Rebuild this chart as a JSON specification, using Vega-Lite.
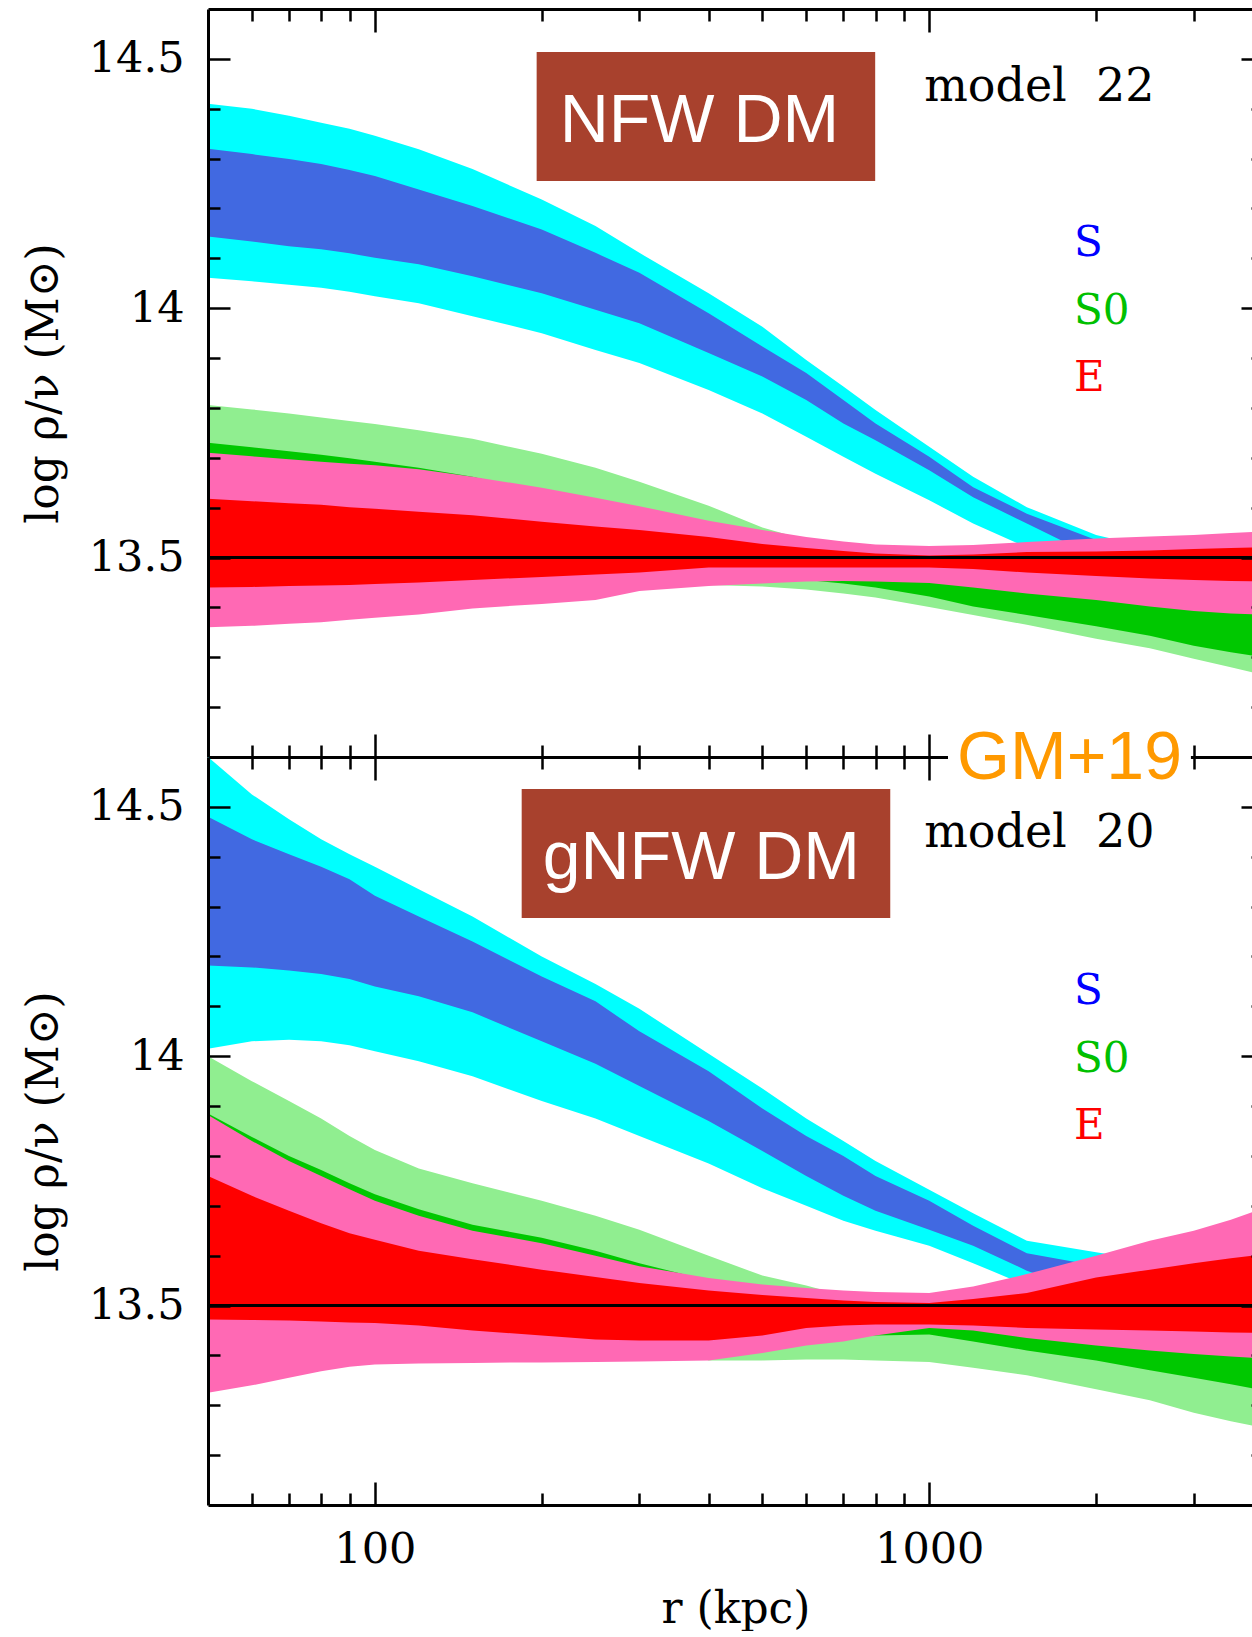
{
  "$schema": "https://vega.github.io/schema/vega-lite/v6.json",
  "background": "white",
  "padding": {"left": 22, "top": 7, "right": 0, "bottom": 0},
  "spacing": 0,
  "bounds": "flush",
  "config": {
    "view": {"stroke": null},
    "axis": {
      "grid": false, "domainColor": "black", "domainWidth": 3, "tickColor": "black", "tickWidth": 2.5,
      "labelFont": "DejaVu Serif", "labelFontSize": 43, "labelColor": "black",
      "titleFont": "DejaVu Serif", "titleFontSize": 44, "titleColor": "black", "titleFontWeight": "normal",
      "labelOverlap": false, "labelFlush": false, "minExtent": 0
    }
  },
  "datasets": {
    "upper": [
      {"r": 50, "s2h": 14.41, "s2l": 14.061, "s1h": 14.32, "s1l": 14.144, "g2h": 13.806, "g2l": 13.5, "g1h": 13.73, "g1l": 13.52, "e2h": 13.71, "e2l": 13.36, "e1h": 13.618, "e1l": 13.44},
      {"r": 60, "s2h": 14.4, "s2l": 14.054, "s1h": 14.309, "s1l": 14.134, "g2h": 13.797, "g2l": 13.5, "g1h": 13.721, "g1l": 13.52, "e2h": 13.703, "e2l": 13.363, "e1h": 13.613, "e1l": 13.441},
      {"r": 70, "s2h": 14.386, "s2l": 14.047, "s1h": 14.299, "s1l": 14.124, "g2h": 13.789, "g2l": 13.5, "g1h": 13.713, "g1l": 13.52, "e2h": 13.697, "e2l": 13.367, "e1h": 13.609, "e1l": 13.443},
      {"r": 80, "s2h": 14.372, "s2l": 14.041, "s1h": 14.289, "s1l": 14.118, "g2h": 13.781, "g2l": 13.5, "g1h": 13.706, "g1l": 13.52, "e2h": 13.692, "e2l": 13.37, "e1h": 13.606, "e1l": 13.444},
      {"r": 90, "s2h": 14.36, "s2l": 14.033, "s1h": 14.277, "s1l": 14.11, "g2h": 13.774, "g2l": 13.5, "g1h": 13.699, "g1l": 13.52, "e2h": 13.688, "e2l": 13.375, "e1h": 13.601, "e1l": 13.445},
      {"r": 100, "s2h": 14.346, "s2l": 14.024, "s1h": 14.265, "s1l": 14.101, "g2h": 13.768, "g2l": 13.5, "g1h": 13.692, "g1l": 13.52, "e2h": 13.685, "e2l": 13.379, "e1h": 13.598, "e1l": 13.447},
      {"r": 120, "s2h": 14.319, "s2l": 14.01, "s1h": 14.238, "s1l": 14.088, "g2h": 13.755, "g2l": 13.5, "g1h": 13.68, "g1l": 13.52, "e2h": 13.677, "e2l": 13.386, "e1h": 13.592, "e1l": 13.45},
      {"r": 150, "s2h": 14.279, "s2l": 13.984, "s1h": 14.205, "s1l": 14.064, "g2h": 13.738, "g2l": 13.5, "g1h": 13.662, "g1l": 13.52, "e2h": 13.662, "e2l": 13.398, "e1h": 13.585, "e1l": 13.455},
      {"r": 200, "s2h": 14.218, "s2l": 13.95, "s1h": 14.158, "s1l": 14.03, "g2h": 13.708, "g2l": 13.5, "g1h": 13.63, "g1l": 13.52, "e2h": 13.64, "e2l": 13.407, "e1h": 13.572, "e1l": 13.461},
      {"r": 250, "s2h": 14.165, "s2l": 13.916, "s1h": 14.111, "s1l": 13.997, "g2h": 13.68, "g2l": 13.5, "g1h": 13.6, "g1l": 13.52, "e2h": 13.62, "e2l": 13.415, "e1h": 13.562, "e1l": 13.466},
      {"r": 300, "s2h": 14.111, "s2l": 13.89, "s1h": 14.071, "s1l": 13.97, "g2h": 13.652, "g2l": 13.5, "g1h": 13.58, "g1l": 13.5, "e2h": 13.603, "e2l": 13.433, "e1h": 13.555, "e1l": 13.47},
      {"r": 400, "s2h": 14.03, "s2l": 13.836, "s1h": 13.99, "s1l": 13.91, "g2h": 13.604, "g2l": 13.445, "g1h": 13.55, "g1l": 13.49, "e2h": 13.574, "e2l": 13.443, "e1h": 13.541, "e1l": 13.48},
      {"r": 500, "s2h": 13.963, "s2l": 13.789, "s1h": 13.923, "s1l": 13.863, "g2h": 13.56, "g2l": 13.442, "g1h": 13.53, "g1l": 13.47, "e2h": 13.555, "e2l": 13.448, "e1h": 13.527, "e1l": 13.48},
      {"r": 600, "s2h": 13.896, "s2l": 13.742, "s1h": 13.87, "s1l": 13.816, "g2h": 13.535, "g2l": 13.436, "g1h": 13.52, "g1l": 13.455, "e2h": 13.541, "e2l": 13.452, "e1h": 13.519, "e1l": 13.48},
      {"r": 700, "s2h": 13.843, "s2l": 13.702, "s1h": 13.816, "s1l": 13.769, "g2h": 13.52, "g2l": 13.428, "g1h": 13.51, "g1l": 13.448, "e2h": 13.532, "e2l": 13.453, "e1h": 13.513, "e1l": 13.48},
      {"r": 800, "s2h": 13.796, "s2l": 13.668, "s1h": 13.769, "s1l": 13.735, "g2h": 13.51, "g2l": 13.42, "g1h": 13.5, "g1l": 13.44, "e2h": 13.526, "e2l": 13.452, "e1h": 13.508, "e1l": 13.48},
      {"r": 1000, "s2h": 13.722, "s2l": 13.615, "s1h": 13.702, "s1l": 13.675, "g2h": 13.5, "g2l": 13.401, "g1h": 13.49, "g1l": 13.422, "e2h": 13.523, "e2l": 13.449, "e1h": 13.504, "e1l": 13.48},
      {"r": 1200, "s2h": 13.662, "s2l": 13.568, "s1h": 13.641, "s1l": 13.621, "g2h": 13.49, "g2l": 13.385, "g1h": 13.48, "g1l": 13.402, "e2h": 13.525, "e2l": 13.44, "e1h": 13.506, "e1l": 13.477},
      {"r": 1500, "s2h": 13.601, "s2l": 13.52, "s1h": 13.588, "s1l": 13.568, "g2h": 13.48, "g2l": 13.365, "g1h": 13.47, "g1l": 13.385, "e2h": 13.531, "e2l": 13.428, "e1h": 13.511, "e1l": 13.47},
      {"r": 2000, "s2h": 13.545, "s2l": 13.48, "s1h": 13.535, "s1l": 13.5, "g2h": 13.47, "g2l": 13.337, "g1h": 13.46, "g1l": 13.362, "e2h": 13.538, "e2l": 13.415, "e1h": 13.512, "e1l": 13.463},
      {"r": 2500, "s2h": 13.52, "s2l": 13.46, "s1h": 13.5, "s1l": 13.48, "g2h": 13.46, "g2l": 13.318, "g1h": 13.45, "g1l": 13.343, "e2h": 13.542, "e2l": 13.402, "e1h": 13.514, "e1l": 13.458},
      {"r": 3000, "s2h": 13.5, "s2l": 13.45, "s1h": 13.49, "s1l": 13.47, "g2h": 13.45, "g2l": 13.297, "g1h": 13.44, "g1l": 13.323, "e2h": 13.545, "e2l": 13.393, "e1h": 13.517, "e1l": 13.455},
      {"r": 3500, "s2h": 13.49, "s2l": 13.44, "s1h": 13.48, "s1l": 13.46, "g2h": 13.445, "g2l": 13.28, "g1h": 13.435, "g1l": 13.31, "e2h": 13.549, "e2l": 13.388, "e1h": 13.519, "e1l": 13.453},
      {"r": 4000, "s2h": 13.48, "s2l": 13.43, "s1h": 13.47, "s1l": 13.455, "g2h": 13.44, "g2l": 13.265, "g1h": 13.43, "g1l": 13.3, "e2h": 13.552, "e2l": 13.385, "e1h": 13.521, "e1l": 13.452}
    ],
    "lower": [
      {"r": 50, "s2h": 14.6, "s2l": 14.015, "s1h": 14.48, "s1l": 14.182, "g2h": 14.0, "g2l": 13.45, "g1h": 13.885, "g1l": 13.5, "e2h": 13.882, "e2l": 13.325, "e1h": 13.76, "e1l": 13.472},
      {"r": 60, "s2h": 14.525, "s2l": 14.03, "s1h": 14.435, "s1l": 14.178, "g2h": 13.95, "g2l": 13.45, "g1h": 13.838, "g1l": 13.5, "e2h": 13.83, "e2l": 13.34, "e1h": 13.72, "e1l": 13.471},
      {"r": 70, "s2h": 14.475, "s2l": 14.033, "s1h": 14.405, "s1l": 14.172, "g2h": 13.91, "g2l": 13.45, "g1h": 13.8, "g1l": 13.5, "e2h": 13.79, "e2l": 13.355, "e1h": 13.69, "e1l": 13.47},
      {"r": 80, "s2h": 14.435, "s2l": 14.03, "s1h": 14.38, "s1l": 14.165, "g2h": 13.875, "g2l": 13.45, "g1h": 13.772, "g1l": 13.5, "e2h": 13.76, "e2l": 13.368, "e1h": 13.665, "e1l": 13.468},
      {"r": 90, "s2h": 14.405, "s2l": 14.022, "s1h": 14.355, "s1l": 14.155, "g2h": 13.84, "g2l": 13.45, "g1h": 13.745, "g1l": 13.5, "e2h": 13.733, "e2l": 13.377, "e1h": 13.645, "e1l": 13.466},
      {"r": 100, "s2h": 14.38, "s2l": 14.01, "s1h": 14.322, "s1l": 14.14, "g2h": 13.812, "g2l": 13.45, "g1h": 13.723, "g1l": 13.5, "e2h": 13.71, "e2l": 13.382, "e1h": 13.632, "e1l": 13.465},
      {"r": 120, "s2h": 14.335, "s2l": 13.99, "s1h": 14.28, "s1l": 14.12, "g2h": 13.775, "g2l": 13.45, "g1h": 13.693, "g1l": 13.5, "e2h": 13.68, "e2l": 13.384, "e1h": 13.61, "e1l": 13.46},
      {"r": 150, "s2h": 14.28, "s2l": 13.96, "s1h": 14.23, "s1l": 14.088, "g2h": 13.745, "g2l": 13.45, "g1h": 13.662, "g1l": 13.5, "e2h": 13.65, "e2l": 13.385, "e1h": 13.593, "e1l": 13.45},
      {"r": 200, "s2h": 14.2, "s2l": 13.91, "s1h": 14.16, "s1l": 14.03, "g2h": 13.71, "g2l": 13.45, "g1h": 13.636, "g1l": 13.5, "e2h": 13.625, "e2l": 13.386, "e1h": 13.572, "e1l": 13.44},
      {"r": 250, "s2h": 14.145, "s2l": 13.875, "s1h": 14.11, "s1l": 13.985, "g2h": 13.68, "g2l": 13.45, "g1h": 13.61, "g1l": 13.5, "e2h": 13.6, "e2l": 13.387, "e1h": 13.557, "e1l": 13.432},
      {"r": 300, "s2h": 14.095, "s2l": 13.84, "s1h": 14.05, "s1l": 13.94, "g2h": 13.652, "g2l": 13.45, "g1h": 13.585, "g1l": 13.5, "e2h": 13.579, "e2l": 13.388, "e1h": 13.545, "e1l": 13.43},
      {"r": 400, "s2h": 14.005, "s2l": 13.785, "s1h": 13.97, "s1l": 13.87, "g2h": 13.6, "g2l": 13.39, "g1h": 13.55, "g1l": 13.5, "e2h": 13.555, "e2l": 13.39, "e1h": 13.53, "e1l": 13.43},
      {"r": 500, "s2h": 13.935, "s2l": 13.735, "s1h": 13.895, "s1l": 13.81, "g2h": 13.56, "g2l": 13.39, "g1h": 13.53, "g1l": 13.5, "e2h": 13.542, "e2l": 13.405, "e1h": 13.521, "e1l": 13.44},
      {"r": 600, "s2h": 13.875, "s2l": 13.7, "s1h": 13.84, "s1l": 13.76, "g2h": 13.54, "g2l": 13.392, "g1h": 13.52, "g1l": 13.45, "e2h": 13.535, "e2l": 13.42, "e1h": 13.515, "e1l": 13.455},
      {"r": 700, "s2h": 13.83, "s2l": 13.67, "s1h": 13.8, "s1l": 13.72, "g2h": 13.52, "g2l": 13.392, "g1h": 13.51, "g1l": 13.44, "e2h": 13.53, "e2l": 13.428, "e1h": 13.51, "e1l": 13.46},
      {"r": 800, "s2h": 13.79, "s2l": 13.65, "s1h": 13.76, "s1l": 13.69, "g2h": 13.51, "g2l": 13.39, "g1h": 13.5, "g1l": 13.44, "e2h": 13.527, "e2l": 13.44, "e1h": 13.507, "e1l": 13.462},
      {"r": 1000, "s2h": 13.732, "s2l": 13.62, "s1h": 13.71, "s1l": 13.652, "g2h": 13.5, "g2l": 13.387, "g1h": 13.49, "g1l": 13.442, "e2h": 13.525, "e2l": 13.455, "e1h": 13.505, "e1l": 13.462},
      {"r": 1200, "s2h": 13.685, "s2l": 13.585, "s1h": 13.66, "s1l": 13.62, "g2h": 13.49, "g2l": 13.375, "g1h": 13.48, "g1l": 13.428, "e2h": 13.538, "e2l": 13.45, "e1h": 13.513, "e1l": 13.46},
      {"r": 1500, "s2h": 13.63, "s2l": 13.54, "s1h": 13.605, "s1l": 13.57, "g2h": 13.48, "g2l": 13.36, "g1h": 13.47, "g1l": 13.41, "e2h": 13.563, "e2l": 13.435, "e1h": 13.525, "e1l": 13.455},
      {"r": 2000, "s2h": 13.607, "s2l": 13.5, "s1h": 13.58, "s1l": 13.52, "g2h": 13.47, "g2l": 13.332, "g1h": 13.46, "g1l": 13.39, "e2h": 13.6, "e2l": 13.42, "e1h": 13.556, "e1l": 13.452},
      {"r": 2500, "s2h": 13.59, "s2l": 13.49, "s1h": 13.56, "s1l": 13.5, "g2h": 13.46, "g2l": 13.31, "g1h": 13.45, "g1l": 13.37, "e2h": 13.63, "e2l": 13.41, "e1h": 13.572, "e1l": 13.45},
      {"r": 3000, "s2h": 13.57, "s2l": 13.48, "s1h": 13.55, "s1l": 13.49, "g2h": 13.45, "g2l": 13.285, "g1h": 13.44, "g1l": 13.355, "e2h": 13.65, "e2l": 13.403, "e1h": 13.585, "e1l": 13.448},
      {"r": 3500, "s2h": 13.56, "s2l": 13.47, "s1h": 13.54, "s1l": 13.48, "g2h": 13.445, "g2l": 13.268, "g1h": 13.435, "g1l": 13.342, "e2h": 13.672, "e2l": 13.398, "e1h": 13.595, "e1l": 13.446},
      {"r": 4000, "s2h": 13.55, "s2l": 13.46, "s1h": 13.53, "s1l": 13.47, "g2h": 13.44, "g2l": 13.255, "g1h": 13.43, "g1l": 13.33, "e2h": 13.695, "e2l": 13.394, "e1h": 13.602, "e1l": 13.445}
    ]
  },
  "vconcat": [
    {
      "width": 1055, "height": 748,
      "data": {"name": "upper"},
      "resolve": {"axis": {"x": "independent", "y": "independent"}},
      "layer": [
        {"mark": {"type": "area", "orient": "vertical", "color": "#00FFFF"},
         "encoding": {
           "x": {"field": "r", "type": "quantitative", "scale": {"type": "log", "domain": [50, 4000], "nice": false},
                 "axis": {"orient": "bottom", "values": [60, 70, 80, 90, 100, 200, 300, 400, 500, 600, 700, 800, 900, 1000, 2000, 3000], "tickSize": {"condition": {"test": "datum.value == 100 || datum.value == 1000", "value": -23}, "value": -12}, "labels": false, "title": null, "zindex": 1}},
           "y": {"field": "s2h", "type": "quantitative", "scale": {"domain": [13.1, 14.6], "nice": false, "zero": false},
                 "axis": {"orient": "left", "values": [13.2, 13.3, 13.4, 13.5, 13.6, 13.7, 13.8, 13.9, 14, 14.1, 14.2, 14.3, 14.4, 14.5], "tickSize": {"condition": {"test": "datum.value == 14.5 || datum.value == 14 || datum.value == 13.5", "value": -22}, "value": -12}, "labelPadding": 46, "labelExpr": "datum.value == 14.5 ? '14.5' : datum.value == 14 ? '14' : datum.value == 13.5 ? '13.5' : ''", "title": "log  ρ/ν (M⊙)", "titlePadding": 22, "zindex": 1}},
           "y2": {"field": "s2l"}
         }},
        {"mark": {"type": "area", "orient": "vertical", "color": "#4169E1"},
         "encoding": {
           "x": {"field": "r", "type": "quantitative", "scale": {"type": "log", "domain": [50, 4000], "nice": false},
                 "axis": {"orient": "top", "values": [60, 70, 80, 90, 100, 200, 300, 400, 500, 600, 700, 800, 900, 1000, 2000, 3000], "tickSize": {"condition": {"test": "datum.value == 100 || datum.value == 1000", "value": -23}, "value": -12}, "labels": false, "title": null, "zindex": 1}},
           "y": {"field": "s1h", "type": "quantitative", "scale": {"domain": [13.1, 14.6], "nice": false, "zero": false},
                 "axis": {"orient": "right", "values": [13.2, 13.3, 13.4, 13.5, 13.6, 13.7, 13.8, 13.9, 14, 14.1, 14.2, 14.3, 14.4, 14.5], "tickSize": {"condition": {"test": "datum.value == 14.5 || datum.value == 14 || datum.value == 13.5", "value": -22}, "value": -12}, "labels": false, "title": null, "zindex": 1}},
           "y2": {"field": "s1l"}
         }},
        {"mark": {"type": "area", "orient": "vertical", "color": "#90EE90"},
         "encoding": {
           "x": {"field": "r", "type": "quantitative", "scale": {"type": "log", "domain": [50, 4000], "nice": false}, "axis": null},
           "y": {"field": "g2h", "type": "quantitative", "scale": {"domain": [13.1, 14.6], "nice": false, "zero": false}, "axis": null},
           "y2": {"field": "g2l"}
         }},
        {"mark": {"type": "area", "orient": "vertical", "color": "#00C800"},
         "encoding": {
           "x": {"field": "r", "type": "quantitative", "scale": {"type": "log", "domain": [50, 4000], "nice": false}, "axis": null},
           "y": {"field": "g1h", "type": "quantitative", "scale": {"domain": [13.1, 14.6], "nice": false, "zero": false}, "axis": null},
           "y2": {"field": "g1l"}
         }},
        {"mark": {"type": "area", "orient": "vertical", "color": "#FF69B4"},
         "encoding": {
           "x": {"field": "r", "type": "quantitative", "scale": {"type": "log", "domain": [50, 4000], "nice": false}, "axis": null},
           "y": {"field": "e2h", "type": "quantitative", "scale": {"domain": [13.1, 14.6], "nice": false, "zero": false}, "axis": null},
           "y2": {"field": "e2l"}
         }},
        {"mark": {"type": "area", "orient": "vertical", "color": "#FF0000"},
         "encoding": {
           "x": {"field": "r", "type": "quantitative", "scale": {"type": "log", "domain": [50, 4000], "nice": false}, "axis": null},
           "y": {"field": "e1h", "type": "quantitative", "scale": {"domain": [13.1, 14.6], "nice": false, "zero": false}, "axis": null},
           "y2": {"field": "e1l"}
         }},
        {"mark": {"type": "rule", "color": "black", "strokeWidth": 3},
         "encoding": {"y": {"datum": 13.5, "type": "quantitative", "scale": {"domain": [13.1, 14.6], "nice": false, "zero": false}, "axis": null}}},
        {"data": {"values": [{"a": 195.8, "b": 798.9, "lo": 14.255, "hi": 14.514}]},
         "mark": {"type": "rect", "color": "#A8412D"},
         "encoding": {
           "x": {"field": "a", "type": "quantitative", "scale": {"type": "log", "domain": [50, 4000], "nice": false}, "axis": null},
           "x2": {"field": "b"},
           "y": {"field": "lo", "type": "quantitative", "scale": {"domain": [13.1, 14.6], "nice": false, "zero": false}, "axis": null},
           "y2": {"field": "hi"}
         }},
        {"data": {"values": [{"r": 385, "v": 14.333, "t": "NFW DM"}]},
         "mark": {"type": "text", "font": "Liberation Sans", "fontSize": 68, "color": "white", "align": "center", "baseline": "alphabetic"},
         "encoding": {
           "x": {"field": "r", "type": "quantitative", "scale": {"type": "log", "domain": [50, 4000], "nice": false}, "axis": null},
           "y": {"field": "v", "type": "quantitative", "scale": {"domain": [13.1, 14.6], "nice": false, "zero": false}, "axis": null},
           "text": {"field": "t"}
         }},
        {"data": {"values": [{"r": 979, "v": 14.4155, "t": "model\u00a0 22"}]},
         "mark": {"type": "text", "font": "DejaVu Serif", "fontSize": 46, "color": "black", "align": "left", "baseline": "alphabetic"},
         "encoding": {
           "x": {"field": "r", "type": "quantitative", "scale": {"type": "log", "domain": [50, 4000], "nice": false}, "axis": null},
           "y": {"field": "v", "type": "quantitative", "scale": {"domain": [13.1, 14.6], "nice": false, "zero": false}, "axis": null},
           "text": {"field": "t"}
         }},
        {"data": {"values": [{"r": 1825, "v": 14.105, "t": "S"}, {"r": 1825, "v": 13.969, "t": "S0"}, {"r": 1825, "v": 13.833, "t": "E"}]},
         "mark": {"type": "text", "font": "DejaVu Serif", "fontSize": 42, "align": "left", "baseline": "alphabetic"},
         "encoding": {
           "x": {"field": "r", "type": "quantitative", "scale": {"type": "log", "domain": [50, 4000], "nice": false}, "axis": null},
           "y": {"field": "v", "type": "quantitative", "scale": {"domain": [13.1, 14.6], "nice": false, "zero": false}, "axis": null},
           "text": {"field": "t"},
           "color": {"field": "t", "type": "nominal", "scale": {"domain": ["S", "S0", "E"], "range": ["#0000FF", "#00C000", "#FF0000"]}, "legend": null}
         }}
      ]
    },
    {
      "width": 1055, "height": 748,
      "data": {"name": "lower"},
      "resolve": {"axis": {"x": "independent", "y": "independent"}},
      "layer": [
        {"mark": {"type": "area", "orient": "vertical", "color": "#00FFFF"},
         "encoding": {
           "x": {"field": "r", "type": "quantitative", "scale": {"type": "log", "domain": [50, 4000], "nice": false},
                 "axis": {"orient": "bottom", "values": [60, 70, 80, 90, 100, 200, 300, 400, 500, 600, 700, 800, 900, 1000, 2000, 3000], "tickSize": {"condition": {"test": "datum.value == 100 || datum.value == 1000", "value": -23}, "value": -12}, "labelPadding": 46, "labelExpr": "datum.value == 100 ? '100' : datum.value == 1000 ? '1000' : ''", "title": "r (kpc)", "titleFontSize": 44, "titlePadding": 5, "zindex": 1}},
           "y": {"field": "s2h", "type": "quantitative", "scale": {"domain": [13.1, 14.6], "nice": false, "zero": false},
                 "axis": {"orient": "left", "values": [13.2, 13.3, 13.4, 13.5, 13.6, 13.7, 13.8, 13.9, 14, 14.1, 14.2, 14.3, 14.4, 14.5], "tickSize": {"condition": {"test": "datum.value == 14.5 || datum.value == 14 || datum.value == 13.5", "value": -22}, "value": -12}, "labelPadding": 46, "labelExpr": "datum.value == 14.5 ? '14.5' : datum.value == 14 ? '14' : datum.value == 13.5 ? '13.5' : ''", "title": "log  ρ/ν (M⊙)", "titlePadding": 22, "zindex": 1}},
           "y2": {"field": "s2l"}
         }},
        {"mark": {"type": "area", "orient": "vertical", "color": "#4169E1"},
         "encoding": {
           "x": {"field": "r", "type": "quantitative", "scale": {"type": "log", "domain": [50, 4000], "nice": false},
                 "axis": {"orient": "top", "values": [60, 70, 80, 90, 100, 200, 300, 400, 500, 600, 700, 800, 900, 1000, 2000, 3000], "tickSize": {"condition": {"test": "datum.value == 100 || datum.value == 1000", "value": -23}, "value": -12}, "labels": false, "title": null, "zindex": 0}},
           "y": {"field": "s1h", "type": "quantitative", "scale": {"domain": [13.1, 14.6], "nice": false, "zero": false},
                 "axis": {"orient": "right", "values": [13.2, 13.3, 13.4, 13.5, 13.6, 13.7, 13.8, 13.9, 14, 14.1, 14.2, 14.3, 14.4, 14.5], "tickSize": {"condition": {"test": "datum.value == 14.5 || datum.value == 14 || datum.value == 13.5", "value": -22}, "value": -12}, "labels": false, "title": null, "zindex": 1}},
           "y2": {"field": "s1l"}
         }},
        {"mark": {"type": "area", "orient": "vertical", "color": "#90EE90"},
         "encoding": {
           "x": {"field": "r", "type": "quantitative", "scale": {"type": "log", "domain": [50, 4000], "nice": false}, "axis": null},
           "y": {"field": "g2h", "type": "quantitative", "scale": {"domain": [13.1, 14.6], "nice": false, "zero": false}, "axis": null},
           "y2": {"field": "g2l"}
         }},
        {"mark": {"type": "area", "orient": "vertical", "color": "#00C800"},
         "encoding": {
           "x": {"field": "r", "type": "quantitative", "scale": {"type": "log", "domain": [50, 4000], "nice": false}, "axis": null},
           "y": {"field": "g1h", "type": "quantitative", "scale": {"domain": [13.1, 14.6], "nice": false, "zero": false}, "axis": null},
           "y2": {"field": "g1l"}
         }},
        {"mark": {"type": "area", "orient": "vertical", "color": "#FF69B4"},
         "encoding": {
           "x": {"field": "r", "type": "quantitative", "scale": {"type": "log", "domain": [50, 4000], "nice": false}, "axis": null},
           "y": {"field": "e2h", "type": "quantitative", "scale": {"domain": [13.1, 14.6], "nice": false, "zero": false}, "axis": null},
           "y2": {"field": "e2l"}
         }},
        {"mark": {"type": "area", "orient": "vertical", "color": "#FF0000"},
         "encoding": {
           "x": {"field": "r", "type": "quantitative", "scale": {"type": "log", "domain": [50, 4000], "nice": false}, "axis": null},
           "y": {"field": "e1h", "type": "quantitative", "scale": {"domain": [13.1, 14.6], "nice": false, "zero": false}, "axis": null},
           "y2": {"field": "e1l"}
         }},
        {"mark": {"type": "rule", "color": "black", "strokeWidth": 3},
         "encoding": {"y": {"datum": 13.5, "type": "quantitative", "scale": {"domain": [13.1, 14.6], "nice": false, "zero": false}, "axis": null}}},
        {"data": {"values": [{"a": 184, "b": 850.5, "lo": 14.277, "hi": 14.536}]},
         "mark": {"type": "rect", "color": "#A8412D"},
         "encoding": {
           "x": {"field": "a", "type": "quantitative", "scale": {"type": "log", "domain": [50, 4000], "nice": false}, "axis": null},
           "x2": {"field": "b"},
           "y": {"field": "lo", "type": "quantitative", "scale": {"domain": [13.1, 14.6], "nice": false, "zero": false}, "axis": null},
           "y2": {"field": "hi"}
         }},
        {"data": {"values": [{"r": 388, "v": 14.355, "t": "gNFW DM"}]},
         "mark": {"type": "text", "font": "Liberation Sans", "fontSize": 68, "color": "white", "align": "center", "baseline": "alphabetic"},
         "encoding": {
           "x": {"field": "r", "type": "quantitative", "scale": {"type": "log", "domain": [50, 4000], "nice": false}, "axis": null},
           "y": {"field": "v", "type": "quantitative", "scale": {"domain": [13.1, 14.6], "nice": false, "zero": false}, "axis": null},
           "text": {"field": "t"}
         }},
        {"data": {"values": [{"r": 979, "v": 14.42, "t": "model\u00a0 20"}]},
         "mark": {"type": "text", "font": "DejaVu Serif", "fontSize": 46, "color": "black", "align": "left", "baseline": "alphabetic"},
         "encoding": {
           "x": {"field": "r", "type": "quantitative", "scale": {"type": "log", "domain": [50, 4000], "nice": false}, "axis": null},
           "y": {"field": "v", "type": "quantitative", "scale": {"domain": [13.1, 14.6], "nice": false, "zero": false}, "axis": null},
           "text": {"field": "t"}
         }},
        {"data": {"values": [{"r": 1825, "v": 14.105, "t": "S"}, {"r": 1825, "v": 13.969, "t": "S0"}, {"r": 1825, "v": 13.833, "t": "E"}]},
         "mark": {"type": "text", "font": "DejaVu Serif", "fontSize": 42, "align": "left", "baseline": "alphabetic"},
         "encoding": {
           "x": {"field": "r", "type": "quantitative", "scale": {"type": "log", "domain": [50, 4000], "nice": false}, "axis": null},
           "y": {"field": "v", "type": "quantitative", "scale": {"domain": [13.1, 14.6], "nice": false, "zero": false}, "axis": null},
           "text": {"field": "t"},
           "color": {"field": "t", "type": "nominal", "scale": {"domain": ["S", "S0", "E"], "range": ["#0000FF", "#00C000", "#FF0000"]}, "legend": null}
         }},
        {"data": {"values": [{"a": 1081, "b": 2965, "lo": 14.572, "hi": 14.632}]},
         "mark": {"type": "rect", "color": "white"},
         "encoding": {
           "x": {"field": "a", "type": "quantitative", "scale": {"type": "log", "domain": [50, 4000], "nice": false}, "axis": null},
           "x2": {"field": "b"},
           "y": {"field": "lo", "type": "quantitative", "scale": {"domain": [13.1, 14.6], "nice": false, "zero": false}, "axis": null},
           "y2": {"field": "hi"}
         }},
        {"data": {"values": [{"r": 1791, "v": 14.556, "t": "GM+19"}]},
         "mark": {"type": "text", "font": "Liberation Sans", "fontSize": 68, "color": "#FF9900", "align": "center", "baseline": "alphabetic"},
         "encoding": {
           "x": {"field": "r", "type": "quantitative", "scale": {"type": "log", "domain": [50, 4000], "nice": false}, "axis": null},
           "y": {"field": "v", "type": "quantitative", "scale": {"domain": [13.1, 14.6], "nice": false, "zero": false}, "axis": null},
           "text": {"field": "t"}
         }}
      ]
    }
  ]
}
